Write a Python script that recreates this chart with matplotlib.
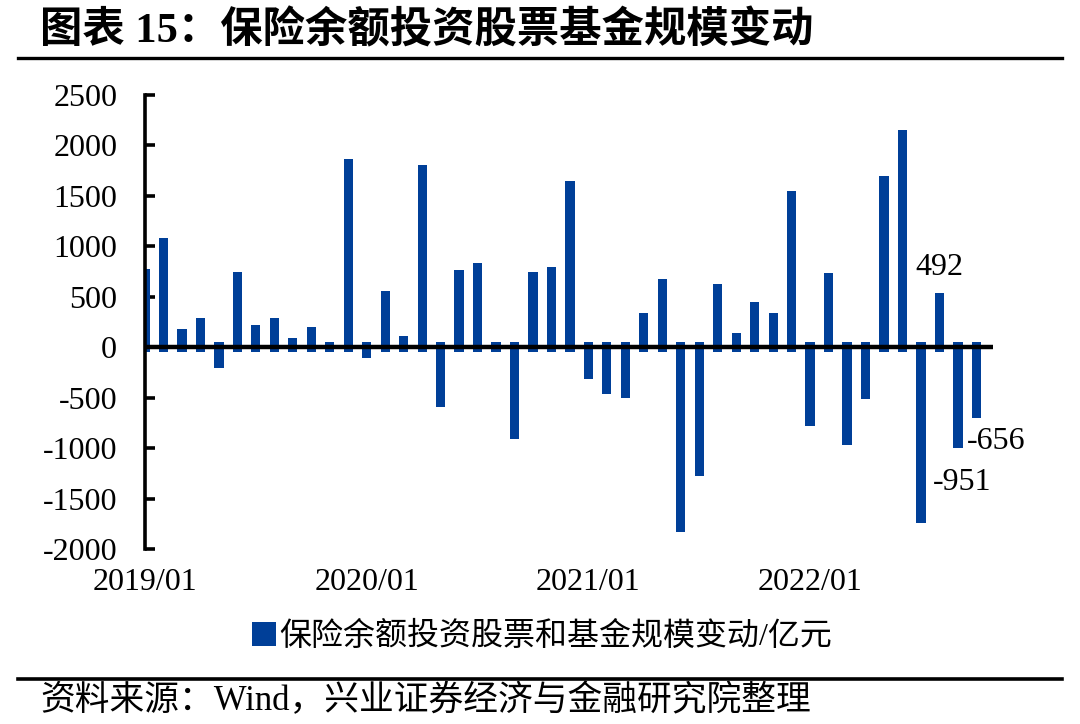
import numpy as np
import matplotlib
matplotlib.use("Agg")
import matplotlib.pyplot as plt
from matplotlib.patches import Patch
from matplotlib.lines import Line2D

# monthly change, 2019/01 - 2022/10 (亿元)
months = ["2019/%02d" % m for m in range(1, 13)] + \
         ["2020/%02d" % m for m in range(1, 13)] + \
         ["2021/%02d" % m for m in range(1, 13)] + \
         ["2022/%02d" % m for m in range(1, 11)]
values = [727, 1034, 138, 238, -155, 694, 175, 238, 45, 158, 6, 1815,
          -60, 515, 67, 1762, -545, 717, 786, 5, -859, 700, 753, 1597,
          -264, -413, -452, 297, 631, -1785, -1233, 578, 93, 403, 297, 1501,
          -734, 684, -919, -462, 1646, 2106, -1692, 492, -951, -656]
xtick_labels = ["2019/01", "2020/01", "2021/01", "2022/01"]
yticks = [-2000, -1500, -1000, -500, 0, 500, 1000, 1500, 2000, 2500]
labelled = {43: "492", 44: "-951", 45: "-656"}

plt.rcParams['font.family'] = ['Liberation Serif', 'Noto Sans CJK SC']
plt.rcParams['axes.unicode_minus'] = False

blue = "#003f98"
W, H = 1080, 724
fig = plt.figure(figsize=(W / 100, H / 100), dpi=100)

ax = fig.add_axes([145 / W, 1 - 549 / H, (993 - 145) / W, (549 - 95) / H])

x = np.arange(len(values))
v = np.array(values, dtype=float)
# the source chart draws each bar a little past both ends
pad = 47
sgn = np.where(v >= 0, 1, -1)
ax.bar(x, v + 2 * pad * sgn, bottom=-pad * sgn, width=0.5, color=blue,
       zorder=2)
ax.axhline(0, color="black", lw=3.2, zorder=3)

ax.set_xlim(0, 45.9)
ax.set_ylim(-2000, 2500)
ax.set_yticks(yticks)
ax.set_yticklabels([str(t) for t in yticks])
ax.set_xticks([months.index(l) for l in xtick_labels])
ax.set_xticklabels(xtick_labels)

for s in ["top", "right", "bottom"]:
    ax.spines[s].set_visible(False)
ax.spines["left"].set_linewidth(2.6)
ax.tick_params(axis="y", direction="in", length=7, width=2.6, pad=20,
               labelsize=23)
ax.tick_params(axis="x", length=0, pad=14, labelsize=23)

offsets = {43: (0, 22), 44: (3, -28), 45: (14, -20)}
for i, txt in labelled.items():
    ax.annotate(txt, xy=(i, values[i]), xytext=offsets[i],
                textcoords="offset points", ha="center", va="center",
                fontsize=23)

# title and rules
fig.text(40 / W, 1 - 31 / H, "图表 15：保险余额投资股票基金规模变动",
         fontsize=30.5, fontweight="bold", va="center", ha="left")
fig.add_artist(Line2D([18 / W, 1062 / W], [1 - 58 / H, 1 - 58 / H],
                      color="black", lw=2.4))
fig.add_artist(Line2D([18 / W, 1062 / W], [1 - 679 / H, 1 - 679 / H],
                      color="black", lw=2.6))

handle = Patch(facecolor=blue, edgecolor="none")
fig.legend([handle], ["保险余额投资股票和基金规模变动/亿元"], loc="center",
           bbox_to_anchor=(542 / W, 1 - 637 / H), frameon=False,
           fontsize=23, handlelength=0.75, handleheight=0.75,
           handletextpad=0.1)

fig.text(40 / W, 1 - 701 / H, "资料来源：Wind，兴业证券经济与金融研究院整理",
         fontsize=25, va="center", ha="left")

fig.savefig("out.png", dpi=100)
